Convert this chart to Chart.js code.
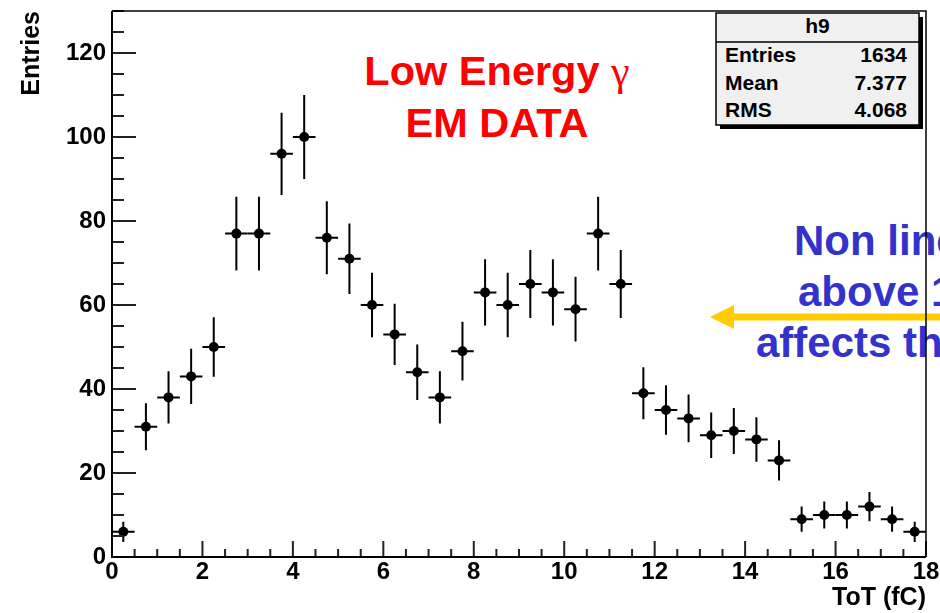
<!DOCTYPE html>
<html>
<head>
<meta charset="utf-8">
<script src="https://cdn.jsdelivr.net/npm/chart.js@4/dist/chart.umd.min.js"></script>
<style>
html, body { margin: 0; padding: 0; background: #ffffff; }
#wrap { position: relative; width: 940px; height: 613px; overflow: hidden; background: #ffffff; }
#under, #over, #c { position: absolute; left: 0; top: 0; }
#under { z-index: 0; }
#c { z-index: 1; }
#over { z-index: 2; }
</style>
</head>
<body>
<div id="wrap">
  <svg id="under" width="940" height="613" xmlns="http://www.w3.org/2000/svg">
    <g font-family="'Liberation Sans', Arial, Helvetica, sans-serif" font-weight="bold">
      <text id="red1" x="497" y="85" text-anchor="middle" font-size="41.5" fill="#ff0000">Low Energy <tspan font-family="'Liberation Serif', 'DejaVu Serif', serif" font-weight="normal" font-size="42">γ</tspan></text>
      <text id="red2" x="497" y="137" text-anchor="middle" font-size="41.5" fill="#ff0000">EM DATA</text>
      <text x="794" y="255" font-size="42" fill="#3333cc">Non linearity</text>
      <text x="798" y="306" font-size="42" fill="#3333cc">above 11 fC</text>
      <text x="756" y="357" font-size="42" fill="#3333cc">affects the peak</text>
    </g>
    <line x1="731" y1="317" x2="945" y2="317" stroke="#ffcc00" stroke-width="7"/>
    <polygon points="710,317 734,305 734,329" fill="#ffcc00"/>
  </svg>
  <canvas id="c" width="940" height="613"></canvas>
  <svg id="over" width="940" height="613" xmlns="http://www.w3.org/2000/svg">
    <g id="stats"></g>
  </svg>
</div>
<script>
// ---- data ----
const binCenters = [0.25, 0.75, 1.25, 1.75, 2.25, 2.75, 3.25, 3.75, 4.25, 4.75,
                    5.25, 5.75, 6.25, 6.75, 7.25, 7.75, 8.25, 8.75, 9.25, 9.75,
                    10.25, 10.75, 11.25, 11.75, 12.25, 12.75, 13.25, 13.75, 14.25, 14.75,
                    15.25, 15.75, 16.25, 16.75, 17.25, 17.75];
const counts = [6, 31, 38, 43, 50, 77, 77, 96, 100, 76,
                71, 60, 53, 44, 38, 49, 63, 60, 65, 63,
                59, 77, 65, 39, 35, 33, 29, 30, 28, 23,
                9, 10, 10, 12, 9, 6];
const errors = [2.4, 5.6, 6.2, 6.6, 7.1, 8.8, 8.8, 9.8, 10.0, 8.7,
                8.4, 7.7, 7.3, 6.6, 6.2, 7.0, 7.9, 7.7, 8.1, 7.9,
                7.7, 8.8, 8.1, 6.2, 5.9, 5.7, 5.4, 5.5, 5.3, 4.8,
                3.0, 3.2, 3.2, 3.5, 3.0, 2.4];
const xTickValues = [0, 2, 4, 6, 8, 10, 12, 14, 16, 18];
const yTickValues = [0, 20, 40, 60, 80, 100, 120];
const xRange = [0, 18];
const yRange = [0, 130];
const binWidth = 0.5;
const statsTitle = 'h9';
const statsLabels = ['Entries', 'Mean', 'RMS'];
const statsValues = ['1634', '7.377', '4.068'];
const xTitle = 'ToT (fC)';
const yTitle = 'Entries';

const FONT = "'Liberation Sans', Arial, Helvetica, sans-serif";

// ---- stats box (ROOT style) ----
(function buildStats() {
  const NS = 'http://www.w3.org/2000/svg';
  const g = document.getElementById('stats');
  function el(tag, attrs, text) {
    const e = document.createElementNS(NS, tag);
    for (const k in attrs) e.setAttribute(k, attrs[k]);
    if (text !== undefined) e.textContent = text;
    g.appendChild(e);
    return e;
  }
  const bx = 716, by = 13, bw = 203, bh = 112;
  el('rect', {x: bx + 4, y: by + 4, width: bw, height: bh, fill: '#000'});
  el('rect', {x: bx, y: by, width: bw, height: bh, fill: '#f0f0f0', stroke: '#000', 'stroke-width': 1.5});
  el('line', {x1: bx, y1: 42, x2: bx + bw, y2: 42, stroke: '#000', 'stroke-width': 1.5});
  el('text', {x: bx + bw / 2, y: 33, 'text-anchor': 'middle', 'font-family': FONT, 'font-weight': 'bold', 'font-size': 21, fill: '#000'}, statsTitle);
  const rowsY = [62, 90, 117];
  statsLabels.forEach((lab, i) => {
    el('text', {x: 725, y: rowsY[i], 'font-family': FONT, 'font-weight': 'bold', 'font-size': 21, fill: '#000'}, lab);
    el('text', {x: 907, y: rowsY[i], 'text-anchor': 'end', 'font-family': FONT, 'font-weight': 'bold', 'font-size': 21, fill: '#000'}, statsValues[i]);
  });
})();

// ---- plugin: error bars, frame and ROOT-style inward ticks ----
const rootStyle = {
  id: 'rootStyle',
  beforeDatasetsDraw(chart) {
    const {ctx, scales: {x, y}} = chart;
    ctx.save();
    ctx.strokeStyle = '#000';
    ctx.lineWidth = 2;
    binCenters.forEach((c, i) => {
      const px = x.getPixelForValue(c);
      const py = y.getPixelForValue(counts[i]);
      const xl = x.getPixelForValue(c - binWidth / 2);
      const xr = x.getPixelForValue(c + binWidth / 2);
      const yt = y.getPixelForValue(counts[i] + errors[i]);
      const yb = y.getPixelForValue(counts[i] - errors[i]);
      ctx.beginPath();
      ctx.moveTo(xl, py); ctx.lineTo(xr, py);
      ctx.moveTo(px, yt); ctx.lineTo(px, yb);
      ctx.stroke();
    });
    ctx.restore();
  },
  afterDraw(chart) {
    const {ctx, chartArea: a, scales: {x, y}} = chart;
    ctx.save();
    ctx.strokeStyle = '#222';
    ctx.lineWidth = 2;
    // y ticks (major every 20, minor every 5)
    for (let v = yRange[0]; v <= yRange[1]; v += 5) {
      const py = y.getPixelForValue(v);
      const len = (v % 20 === 0) ? 24 : 12;
      ctx.beginPath(); ctx.moveTo(a.left, py); ctx.lineTo(a.left + len, py); ctx.stroke();
    }
    // x ticks (major every 2, minor every 0.5)
    for (let v = xRange[0]; v <= xRange[1] + 1e-9; v += 0.5) {
      const px = x.getPixelForValue(v);
      const len = (Math.abs(v % 2) < 1e-9) ? 16 : 8;
      ctx.beginPath(); ctx.moveTo(px, a.bottom); ctx.lineTo(px, a.bottom - len); ctx.stroke();
    }
    // frame
    ctx.strokeStyle = '#000';
    ctx.lineWidth = 1.5;
    ctx.beginPath();
    ctx.moveTo(a.left, a.top); ctx.lineTo(a.right, a.top); ctx.lineTo(a.right, a.bottom);
    ctx.stroke();
    ctx.lineWidth = 2;
    ctx.beginPath();
    ctx.moveTo(a.left, a.top); ctx.lineTo(a.left, a.bottom); ctx.lineTo(a.right, a.bottom);
    ctx.stroke();
    ctx.restore();
  }
};

new Chart(document.getElementById('c'), {
  type: 'scatter',
  data: {
    datasets: [{
      data: binCenters.map((c, i) => ({x: c, y: counts[i]})),
      backgroundColor: '#000',
      borderColor: '#000',
      pointRadius: 5,
      pointBorderWidth: 0,
      pointHoverRadius: 5,
      showLine: false
    }]
  },
  options: {
    responsive: false,
    devicePixelRatio: 1,
    animation: false,
    events: [],
    layout: {padding: {left: 0, top: 11, right: 14, bottom: 0}},
    plugins: {legend: {display: false}, tooltip: {enabled: false}},
    scales: {
      x: {
        type: 'linear',
        min: xRange[0], max: xRange[1],
        grid: {display: false, drawTicks: false},
        border: {display: false},
        afterBuildTicks: s => { s.ticks = xTickValues.map(v => ({value: v})); },
        afterFit: s => { s.height = 56; s.paddingLeft = 0; s.paddingRight = 0; },
        ticks: {
          autoSkip: false, maxRotation: 0, padding: 1,
          color: '#000',
          font: {family: FONT, weight: 'bold', size: 24}
        },
        title: {
          display: true, text: xTitle, align: 'end', color: '#000',
          font: {family: FONT, weight: 'bold', size: 25},
          padding: {top: 0, bottom: 0}
        }
      },
      y: {
        type: 'linear',
        min: yRange[0], max: yRange[1],
        grid: {display: false, drawTicks: false},
        border: {display: false},
        afterBuildTicks: s => { s.ticks = yTickValues.map(v => ({value: v})); },
        afterFit: s => { s.width = 112; s.paddingTop = 0; s.paddingBottom = 0; },
        ticks: {
          autoSkip: false, padding: 6,
          color: '#000',
          font: {family: FONT, weight: 'bold', size: 24}
        },
        title: {
          display: true, text: yTitle, align: 'end', color: '#000',
          font: {family: FONT, weight: 'bold', size: 25},
          padding: {top: 17, bottom: 0}
        }
      }
    }
  },
  plugins: [rootStyle]
});
</script>
</body>
</html>
